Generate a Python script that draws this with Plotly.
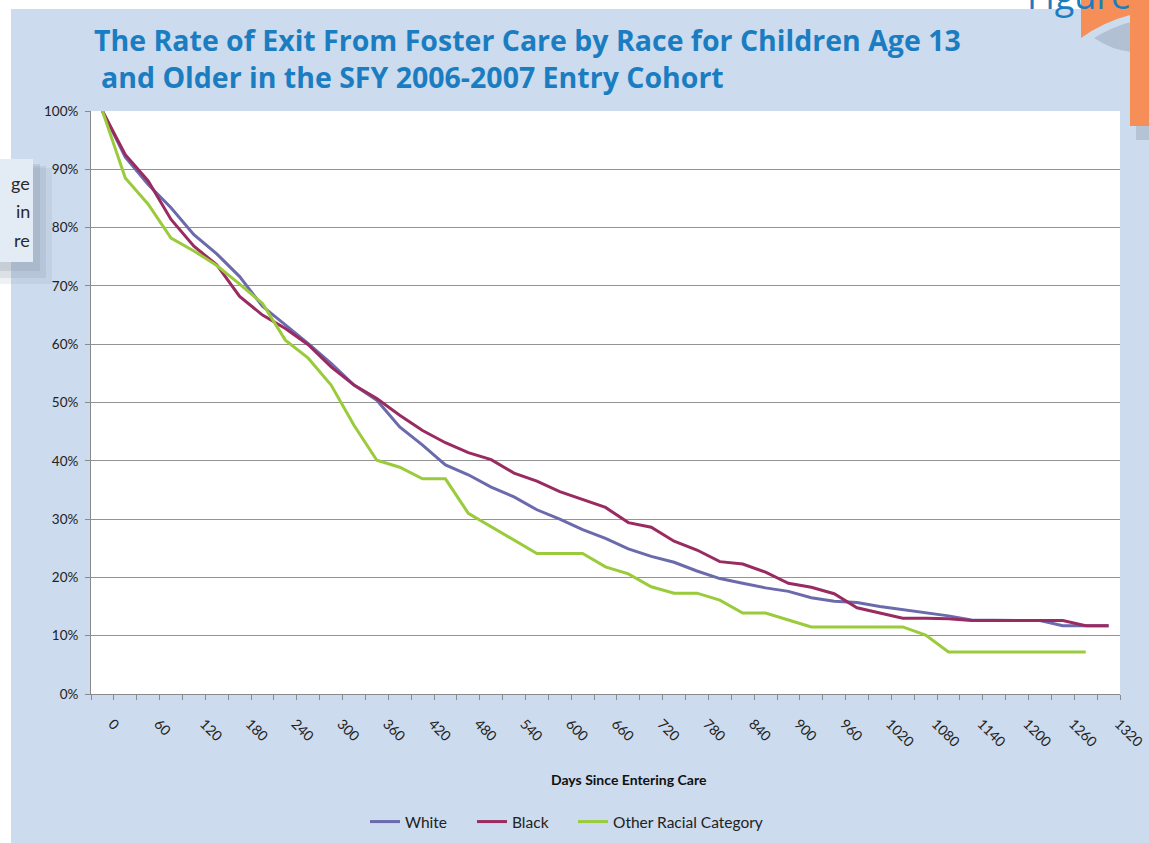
import plotly.graph_objects as go

# ---------------- data ----------------
days = [0, 30, 60, 90, 120, 150, 180, 210, 240, 270, 300, 330, 360, 390, 420,
        450, 480, 510, 540, 570, 600, 630, 660, 690, 720, 750, 780, 810, 840,
        870, 900, 930, 960, 990, 1020, 1050, 1080, 1110, 1140, 1170, 1200,
        1230, 1260, 1290, 1320]

white = [100, 92.1, 87.4, 83.4, 78.8, 75.5, 71.6, 66.5, 63.3, 60.1, 56.7, 53.0,
         50.4, 45.8, 42.7, 39.3, 37.6, 35.5, 33.8, 31.6, 30.0, 28.2, 26.7, 24.9,
         23.6, 22.6, 21.1, 19.8, 19.0, 18.2, 17.6, 16.5, 15.9, 15.7, 15.0, 14.5,
         13.9, 13.4, 12.7, 12.6, 12.6, 12.6, 11.7, 11.7, 11.7]

black = [100, 92.5, 88.0, 81.4, 76.8, 73.6, 68.2, 65.0, 62.7, 59.9, 56.1, 53.0,
         50.7, 47.8, 45.2, 43.1, 41.4, 40.2, 37.9, 36.5, 34.7, 33.3, 32.0, 29.4,
         28.6, 26.2, 24.7, 22.7, 22.3, 20.9, 19.0, 18.3, 17.2, 14.8, 13.9, 13.0,
         13.0, 12.9, 12.6, 12.6, 12.6, 12.6, 12.6, 11.7, 11.7]

other = [100, 88.5, 84.0, 78.2, 76.0, 73.5, 70.3, 67.0, 60.7, 57.6, 53.0, 46.1,
         40.1, 38.9, 36.9, 36.9, 31.0, 28.7, 26.4, 24.1, 24.1, 24.1, 21.8, 20.6,
         18.4, 17.3, 17.3, 16.1, 13.9, 13.9, 12.7, 11.5, 11.5, 11.5, 11.5, 11.5,
         10.1, 7.2, 7.2, 7.2, 7.2, 7.2, 7.2, 7.2]

x_tick_labels = [0, 60, 120, 180, 240, 300, 360, 420, 480, 540, 600, 660, 720,
                 780, 840, 900, 960, 1020, 1080, 1140, 1200, 1260, 1320]
y_ticks = [0, 10, 20, 30, 40, 50, 60, 70, 80, 90, 100]

series_names = ["White", "Black", "Other Racial Category"]
series_colors = ["#6A6AAC", "#9A2B60", "#9ACB3A"]
legend_widths = [62, 56, None]

# ---------------- layout geometry (pixels) ----------------
W, H = 1149, 843
L, R, T, B = 91, 1120, 111, 694


def px(x):
    return (x - L) / (R - L)


def py(y):
    return (B - y) / (B - T)


fig = go.Figure()
for name, vals, col, lw in zip(series_names, [white, black, other], series_colors, legend_widths):
    tr = go.Scatter(x=days[:len(vals)], y=vals, mode="lines", name=name,
                    line=dict(color=col, width=3))
    if lw:
        tr.legendwidth = lw
    fig.add_trace(tr)

BLUE_BG = "#CCDBED"
SHADOW = "#7F8EA0"
shapes = [
    # white page margins
    dict(type="rect", xref="paper", yref="paper", x0=px(0), x1=px(1081), y0=py(0), y1=py(9),
         fillcolor="white", line=dict(width=0), layer="below"),
    dict(type="rect", xref="paper", yref="paper", x0=px(0), x1=px(11), y0=py(0), y1=py(843),
         fillcolor="white", line=dict(width=0), layer="below"),
    # side box soft shadow
    dict(type="rect", xref="paper", yref="paper", x0=px(0), x1=px(52), y0=py(168), y1=py(284),
         fillcolor=SHADOW, opacity=0.12, line=dict(width=0), layer="below"),
    dict(type="rect", xref="paper", yref="paper", x0=px(0), x1=px(46), y0=py(166), y1=py(278),
         fillcolor=SHADOW, opacity=0.16, line=dict(width=0), layer="below"),
    dict(type="rect", xref="paper", yref="paper", x0=px(0), x1=px(40), y0=py(164), y1=py(271),
         fillcolor=SHADOW, opacity=0.22, line=dict(width=0), layer="below"),
    # side box
    dict(type="rect", xref="paper", yref="paper", x0=px(0), x1=px(33), y0=py(159), y1=py(262),
         fillcolor="#E3EBF5", line=dict(width=0), layer="below"),
    # orange tab shadow
    dict(type="rect", xref="paper", yref="paper", x0=px(1136), x1=px(1149), y0=py(124), y1=py(140),
         fillcolor=SHADOW, opacity=0.3, line=dict(width=0), layer="below"),
    dict(type="path", xref="paper", yref="paper",
         path=f"M {px(1094)} {py(38)} Q {px(1112)} {py(27)} {px(1131)} {py(22)} "
              f"L {px(1131)} {py(52)} Q {px(1112)} {py(50)} {px(1094)} {py(38)} Z",
         fillcolor=SHADOW, opacity=0.35, line=dict(width=0), layer="below"),
    # orange tab
    dict(type="path", xref="paper", yref="paper",
         path=f"M {px(1081)} {py(0)} L {px(1149)} {py(0)} L {px(1149)} {py(126)} "
              f"L {px(1130)} {py(126)} L {px(1130)} {py(15)} "
              f"Q {px(1103)} {py(22)} {px(1081)} {py(38)} Z",
         fillcolor="#F58F57", line=dict(width=0), layer="below"),
]

TITLE_FONT = dict(family="Open Sans", size=28.5, color="#1B7DC1")
annotations = [
    dict(text="<b>The Rate of Exit From Foster Care by Race for Children Age 13</b>",
         xref="paper", yref="paper", x=px(92), y=py(40), xanchor="left", yanchor="middle",
         showarrow=False, font=TITLE_FONT),
    dict(text="<b>and Older in the SFY 2006-2007 Entry Cohort</b>",
         xref="paper", yref="paper", x=px(99), y=py(77), xanchor="left", yanchor="middle",
         showarrow=False, font=TITLE_FONT),
    dict(text="<b>Days Since Entering Care</b>", xref="paper", yref="paper",
         x=px(629), y=py(779), xanchor="center", yanchor="middle", showarrow=False,
         font=dict(family="Lato", size=14, color="#111")),
    dict(text="Figure", xref="paper", yref="paper", x=px(1133), y=py(22),
         xanchor="right", yanchor="bottom", showarrow=False,
         font=dict(family="Open Sans", size=36, color="#1B7DC1")),
]
for txt, yy in [("ge", 183), ("in", 211), ("re", 240)]:
    annotations.append(dict(text=txt, xref="paper", yref="paper", x=px(32), y=py(yy),
                            xanchor="right", yanchor="middle", showarrow=False,
                            font=dict(family="Lato", size=18, color="#2A2A2A")))

NB = "\u00a0"
fig.update_layout(
    width=W, height=H,
    margin=dict(l=L, r=W - R, t=T, b=H - B, pad=0, autoexpand=False),
    paper_bgcolor=BLUE_BG, plot_bgcolor="white",
    showlegend=True,
    legend=dict(orientation="h", x=px(365), y=py(822), xanchor="left", yanchor="middle",
                bgcolor="rgba(0,0,0,0)", font=dict(family="Lato", size=15.5, color="#222"),
                itemwidth=30, traceorder="normal"),
    shapes=shapes,
    annotations=annotations,
    xaxis=dict(type="linear", range=[-15, 1335], tickmode="array", tickvals=x_tick_labels,
               ticktext=[NB * 4 + str(v) for v in x_tick_labels], tickangle=45, ticks="",
               ticklabelstandoff=5, ticklabeloverflow="allow", automargin=False,
               showgrid=False, zeroline=False, showline=True, linecolor="#8A8A8A", linewidth=1,
               tickfont=dict(family="Lato", size=14, color="#222"),
               minor=dict(tick0=-15, dtick=30, ticks="outside", ticklen=5,
                          tickcolor="#8A8A8A", showgrid=False)),
    yaxis=dict(range=[0, 100], tickmode="array", tickvals=y_ticks,
               ticktext=[f"{v}%" for v in y_ticks], automargin=False,
               showgrid=True, gridcolor="#939393", gridwidth=1, zeroline=False,
               showline=True, linecolor="#8A8A8A", linewidth=1,
               ticks="outside", ticklen=5, tickcolor="#8A8A8A", ticklabelstandoff=4,
               tickfont=dict(family="Lato", size=13.5, color="#222")),
)

post = (
    "document.documentElement.style.margin='0';"
    "document.documentElement.style.overflow='hidden';"
    "document.body.style.margin='0';"
    "document.body.style.overflow='hidden';"
    "document.querySelectorAll('.plotly-graph-div, .svg-container, .main-svg')"
    ".forEach(function(e){e.style.overflow='hidden';});"
)
fig.write_html("out.html", config={"displayModeBar": False}, post_script=post)
